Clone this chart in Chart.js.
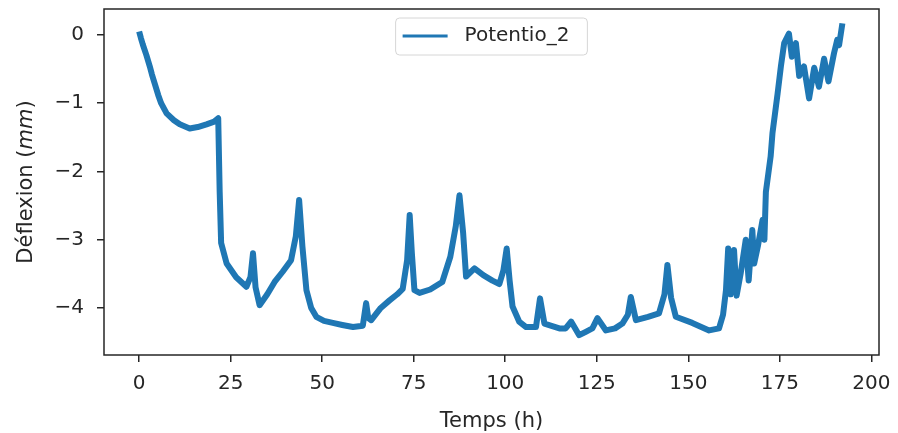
<!DOCTYPE html>
<html>
<head>
<meta charset="utf-8">
<title>Potentio_2</title>
<script src="https://cdn.jsdelivr.net/npm/chart.js@4/dist/chart.umd.min.js"></script>
<style>
  body { margin: 0; background: #fff; }
  #wrap { width: 898px; height: 433px; }
</style>
</head>
<body>
<div id="wrap"><canvas id="chart" width="898" height="433"></canvas></div>
<script>
// time in hours and potentiometer deflection in mm
var hours = [0, 0.5, 1, 2, 2.9, 3.5, 4.3, 5.2, 6, 6.8, 7.5, 9.5, 11.1, 13.8, 16, 18.4, 20.5, 21.6, 22.0, 22.4, 23.9, 26.5, 29.3, 30.4, 31.1, 31.8,
  32.9, 35, 37, 39.2, 41.5, 42.8, 43.7, 44.6, 45.7, 47, 48.4, 50.5, 52.9, 55.5, 58.4, 61.1, 62, 62.6, 63.4, 66,
  68.4, 70.5, 72, 73.2, 73.9, 74.5, 75.2, 76.6, 79.5, 82.8, 85, 86.5, 87.5, 88.5, 89.3, 91.6, 94, 96.5, 98.4, 99.5,
  100.4, 101.2, 102, 103.8, 105.7, 108.4, 109.5, 110.7, 114.8, 116.5, 118, 120.2, 122, 123.8, 125.2, 127.5, 130, 132, 133.5, 134.3,
  135.7, 139, 142, 143.5, 144.3, 145.3, 146.6, 151.1, 155.7, 158.4, 159.5, 160.3, 160.9, 161.6, 162.5, 163.2, 164.3, 165.7, 166.5, 167.5,
  168, 169, 170.3, 170.8, 171.2, 172.5, 173, 174.4, 175.3, 176.2, 177.5, 178.3, 179.4, 180.3, 181.6, 183, 184.4, 185.7, 187.1, 188.3,
  189.8, 190.7, 191.2, 192.1];
var deflexion = [0.05, -0.05, -0.14, -0.3, -0.46, -0.58, -0.72, -0.88, -1.0, -1.08, -1.15, -1.25, -1.31, -1.37, -1.35, -1.31, -1.27, -1.22, -2.3, -3.05, -3.35, -3.55, -3.69, -3.55, -3.2, -3.7,
  -3.96, -3.8, -3.62, -3.47, -3.3, -2.95, -2.42, -3.1, -3.74, -4.0, -4.13, -4.19, -4.22, -4.25, -4.28, -4.26, -3.93, -4.15, -4.18, -4.0,
  -3.89, -3.8, -3.72, -3.3, -2.64, -3.2, -3.74, -3.78, -3.73, -3.62, -3.25, -2.8, -2.35, -2.9, -3.54, -3.42, -3.52, -3.6, -3.65, -3.45,
  -3.13, -3.6, -3.98, -4.2, -4.28, -4.28, -3.86, -4.23, -4.3, -4.3, -4.2, -4.4, -4.35, -4.3, -4.15, -4.33, -4.3, -4.23, -4.1, -3.84,
  -4.18, -4.13, -4.08, -3.8, -3.37, -3.85, -4.13, -4.22, -4.33, -4.3, -4.1, -3.74, -3.13, -3.8, -3.15, -3.82, -3.5, -3.0, -3.6, -2.86,
  -3.35, -3.1, -2.71, -3.0, -2.3, -1.78, -1.44, -0.86, -0.46, -0.12, 0.02, -0.32, -0.12, -0.6, -0.46, -0.93, -0.48, -0.76, -0.35, -0.68,
  -0.27, -0.07, -0.15, 0.17];

var xTicks = [0, 25, 50, 75, 100, 125, 150, 175, 200];
var yTicks = [-4, -3, -2, -1, 0];
var seriesName = 'Potentio_2';

var FONT = 'DejaVu Sans';
var INK = '#262626';
var BLUE = '#1f77b4';

var points = [];
for (var i = 0; i < hours.length; i++) {
  points.push({ x: hours[i], y: deflexion[i] });
}

function minus(v) {
  return String(v).replace('-', '\u2212');
}

// frame, axis titles and the in-plot legend
var decorations = {
  id: 'decorations',
  beforeDraw: function (chart) {
    var c = chart.ctx;
    c.save();
    c.fillStyle = '#fff';
    c.fillRect(0, 0, chart.width, chart.height);
    c.restore();
  },
  afterDraw: function (chart) {
    var c = chart.ctx, a = chart.chartArea;
    c.save();
    c.strokeStyle = INK;
    c.lineWidth = 1.5;
    c.strokeRect(a.left, a.top, a.right - a.left, a.bottom - a.top);

    // x title
    c.fillStyle = INK;
    c.font = '21px "' + FONT + '"';
    c.textAlign = 'center';
    c.textBaseline = 'alphabetic';
    c.fillText('Temps (h)', (a.left + a.right) / 2, 427);

    // y title, italic unit
    var p1 = 'D\u00e9flexion (', p2 = 'mm', p3 = ')';
    var normal = '21px "' + FONT + '"', italic = 'oblique 21px "' + FONT + '"';
    c.font = normal; var w1 = c.measureText(p1).width, w3 = c.measureText(p3).width;
    c.font = italic; var w2 = c.measureText(p2).width;
    var total = w1 + w2 + w3;
    c.translate(32, (a.top + a.bottom) / 2);
    c.rotate(-Math.PI / 2);
    c.textAlign = 'left';
    var sx = -total / 2;
    c.font = normal; c.fillText(p1, sx, 0);
    c.font = italic; c.fillText(p2, sx + w1, 0);
    c.font = normal; c.fillText(p3, sx + w1 + w2, 0);
    c.restore();

    // legend box, upper center
    c.save();
    c.font = '20px "' + FONT + '"';
    var tw = c.measureText(seriesName).width;
    var bw = 14 + 45 + 16 + tw + 12, bh = 37;
    var bx = (a.left + a.right) / 2 - bw / 2, by = a.top + 9;
    c.beginPath();
    c.roundRect(bx, by, bw, bh, 4);
    c.fillStyle = 'rgba(255,255,255,0.8)';
    c.fill();
    c.strokeStyle = '#d6d6d6';
    c.lineWidth = 1;
    c.stroke();
    c.strokeStyle = BLUE;
    c.lineWidth = 3;
    c.beginPath();
    c.moveTo(bx + 7, by + 18);
    c.lineTo(bx + 52, by + 18);
    c.stroke();
    c.fillStyle = INK;
    c.textBaseline = 'middle';
    c.textAlign = 'left';
    c.fillText(seriesName, bx + 69, by + 18);
    c.restore();
  }
};

new Chart(document.getElementById('chart'), {
  type: 'scatter',
  data: {
    datasets: [{
      label: seriesName,
      data: points,
      showLine: true,
      borderColor: BLUE,
      backgroundColor: BLUE,
      borderWidth: 6,
      borderJoinStyle: 'round',
      pointRadius: 0,
      tension: 0
    }]
  },
  options: {
    responsive: false,
    animation: false,
    layout: { padding: { top: 9, right: 19, left: 0, bottom: 0 } },
    plugins: { legend: { display: false }, tooltip: { enabled: false } },
    scales: {
      x: {
        type: 'linear',
        min: -9.6,
        max: 202.1,
        afterBuildTicks: function (s) { s.ticks = xTicks.map(function (v) { return { value: v }; }); },
        afterFit: function (s) { s.height = 78; s.paddingLeft = 0; s.paddingRight = 0; },
        grid: { drawOnChartArea: false, drawTicks: true, tickLength: 7, color: INK, lineWidth: 1.5 },
        border: { display: false },
        ticks: { color: INK, padding: 10, maxRotation: 0, font: { family: FONT, size: 20 },
          callback: function (v) { return minus(v); } }
      },
      y: {
        type: 'linear',
        min: -4.69,
        max: 0.38,
        afterBuildTicks: function (s) { s.ticks = yTicks.map(function (v) { return { value: v }; }); },
        afterFit: function (s) { s.width = 104; s.paddingTop = 0; s.paddingBottom = 0; },
        grid: { drawOnChartArea: false, drawTicks: true, tickLength: 7, color: INK, lineWidth: 1.5 },
        border: { display: false },
        ticks: { color: INK, padding: 13, font: { family: FONT, size: 20 },
          callback: function (v) { return minus(v); } }
      }
    }
  },
  plugins: [decorations]
});
</script>
</body>
</html>
